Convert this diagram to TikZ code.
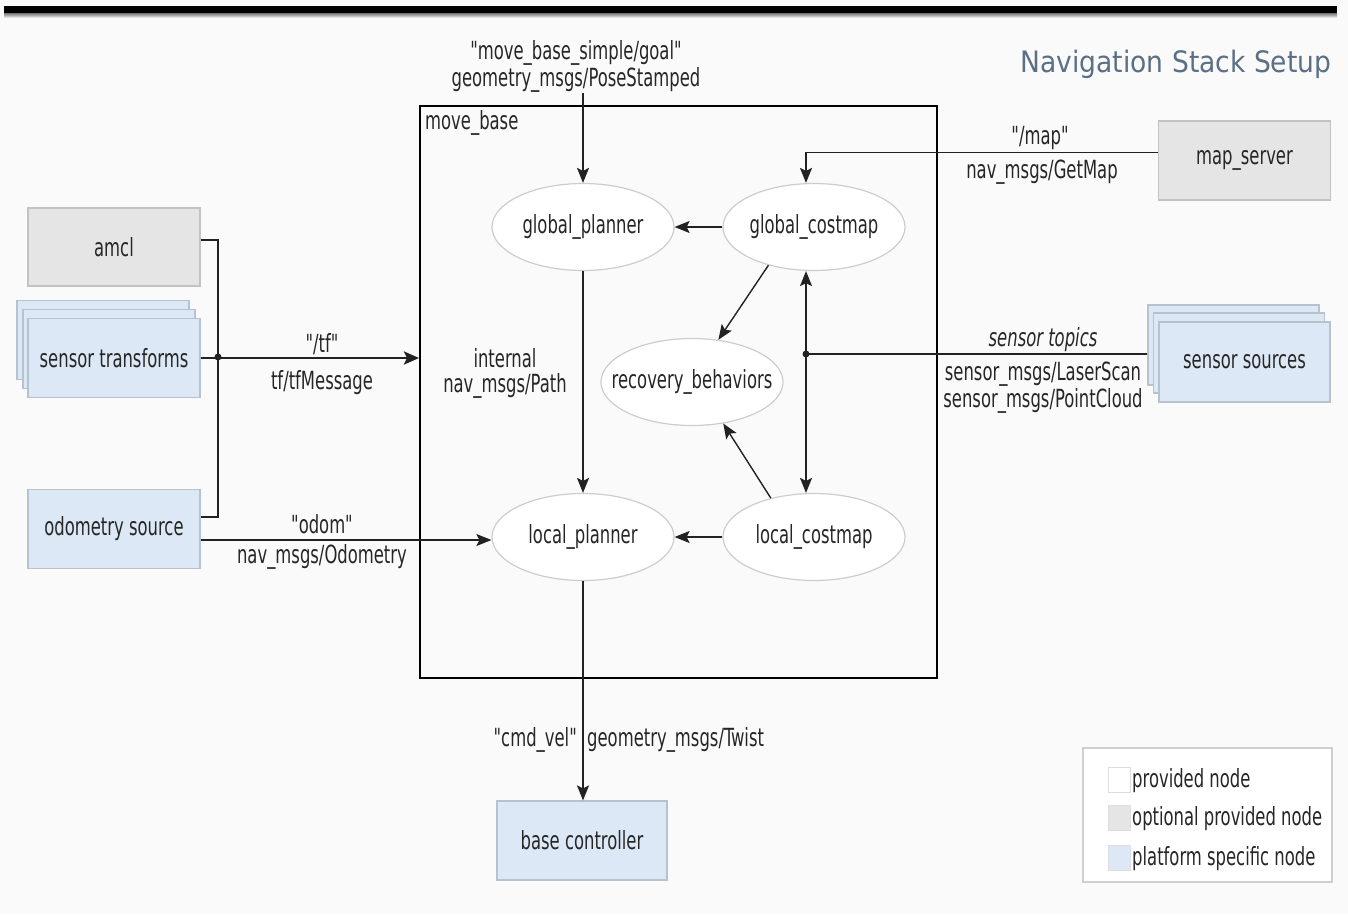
\documentclass[tikz,border=0pt]{standalone}
\usepackage{fontspec}
\newfontfamily\diagfont{DejaVu Sans Condensed}[FakeStretch=0.73]
\newfontfamily\titlefont{DejaVu Sans Condensed}
\usetikzlibrary{arrows.meta,shapes.geometric}
\definecolor{bg}{HTML}{FAFAFA}
\definecolor{ink}{HTML}{262626}
\definecolor{linkcol}{HTML}{222222}
\definecolor{optfill}{HTML}{E5E5E5}
\definecolor{optline}{HTML}{C2C2C2}
\definecolor{platfill}{HTML}{DCE8F6}
\definecolor{platline}{HTML}{B6C2CE}
\definecolor{ellline}{HTML}{CDCDCD}
\definecolor{legline}{HTML}{CFCFCF}
\definecolor{titlecol}{HTML}{5B6F85}
\newcommand\zw[1]{\makebox[0pt]{#1}}
\begin{document}
\begin{tikzpicture}[x=1pt,y=-1pt,
  every node/.style={font=\diagfont\fontsize{25}{27}\selectfont, text=ink, align=center},
  optbox/.style={rectangle, draw=optline, fill=optfill, line width=1.2pt,
    minimum width=172pt, minimum height=78pt, inner sep=2pt},
  platbox/.style={rectangle, draw=platline, fill=platfill, line width=1.2pt,
    minimum width=172pt, minimum height=79pt, inner sep=2pt},
  proc/.style={ellipse, draw=ellline, fill=white, line width=1.2pt,
    minimum width=182pt, minimum height=87pt, inner sep=0pt},
  link/.style={draw=linkcol, line width=1.4pt},
  arr/.style={link, -{Stealth[length=15pt,width=12pt,inset=3pt]}},
  biarr/.style={link, {Stealth[length=15pt,width=12pt,inset=3pt]}-{Stealth[length=15pt,width=12pt,inset=3pt]}},
  keysq/.style={rectangle, draw=legline!70, line width=0.8pt, minimum width=22pt, minimum height=25pt, inner sep=0pt},
  lbl/.style={inner sep=1pt}
]
% canvas and header bar
\fill[bg] (0,0) rectangle (1348,914);
\useasboundingbox (0,0) rectangle (1348,914);
\fill[black] (4,6) rectangle (1337,13);
\shade[top color=black!55, bottom color=bg] (4,13) rectangle (1337,18);

\node[font=\titlefont\fontsize{29.5}{32}\selectfont, text=titlecol] (title) at (1176,64) {Navigation Stack Setup};

% move_base container
\node[draw=black, line width=2pt, minimum width=517pt, minimum height=572pt, inner sep=0pt] (mb) at (678.5,392) {};
\node[anchor=north west, inner sep=0pt] (mblabel) at (425,110) {move\_base};

% internal processes
\node[proc] (gp) at (583,227) {\zw{global\_planner}};
\node[proc] (gc) at (814,227) {\zw{global\_costmap}};
\node[proc] (rb) at (692,382) {\zw{recovery\_behaviors}};
\node[proc] (lp) at (583,537) {\zw{local\_planner}};
\node[proc] (lc) at (814,537) {\zw{local\_costmap}};

% external nodes, left side
\node[optbox] (amcl) at (114,247) {amcl};
\node[platbox] (stC) at (103,340) {};
\node[platbox] (stB) at (109,349) {};
\node[platbox] (st) at (114,358) {sensor transforms};
\node[platbox] (odo) at (114,529) {odometry source};

% external nodes, right side
\node[optbox, minimum height=79pt] (ms) at (1244.5,160.5) {map\_server};
\node[platbox, minimum width=171pt, minimum height=80pt] (ssC) at (1233.5,345) {};
\node[platbox, minimum width=171pt, minimum height=80pt] (ssB) at (1239,353) {};
\node[platbox, minimum width=171pt, minimum height=80pt] (ss) at (1244.5,362) {sensor sources};

% base controller
\node[platbox, minimum width=170pt] (bc) at (582,840.5) {base controller};

% goal input
\node[lbl] (goal) at (576,66) {"move\_base\_simple/goal"\\geometry\_msgs/PoseStamped};
\draw[arr] (gp.north |- goal.south) -- (gp.north);

% tf bus
\coordinate (bus) at (218,357);
\coordinate (amclout) at ([yshift=7pt]amcl.east);
\coordinate (odoout) at ([yshift=12pt]odo.east);
\coordinate (odoodom) at ([yshift=-11pt]odo.east);
\draw[link] (amclout) -| (bus) |- (odoout);
\draw[link, line width=2.6pt, -{Stealth[length=15pt,width=13pt,inset=3pt]}] (st.east) -- (st.east -| mb.west);
\fill[linkcol] (bus) circle (3.5pt);
\node[lbl] (tfname) at (322,344) {"/tf"};
\node[lbl] (tftype) at (322,383) {tf/tfMessage};

% odometry
\draw[arr] (odoodom) -- (odoodom -| lp.west);
\node[lbl] (odomname) at (322,524) {"odom"};
\node[lbl] (odomtype) at (322,557) {nav\_msgs/Odometry};

% planners and costmaps
\draw[arr] (gc) -- (gp);
\draw[arr] (lc) -- (lp);
\draw[arr] (gp) -- (lp);
\node[lbl] (pathname) at (505,358) {internal};
\node[lbl] (pathtype) at (505,386) {nav\_msgs/Path};
\draw[arr] (gc.220) -- (rb.58);
\draw[arr] (lc.138) -- (rb.307);

% sensor topics into the costmaps
\coordinate (tap) at (806,354);
\draw[biarr] (tap |- gc.south) -- (tap |- lc.north);
\draw[link] (tap) -- (tap -| ssC.west);
\fill[linkcol] (tap) circle (3.5pt);
\node[lbl, font=\diagfont\itshape\fontsize{25}{27}\selectfont] (senstopics) at (1043,340) {sensor topics};
\node[lbl] (senstypes) at (1043,388) {sensor\_msgs/LaserScan\\sensor\_msgs/PointCloud};

% map
\coordinate (mapout) at ([yshift=8pt]ms.west);
\draw[arr] (mapout) -| (tap |- gc.north);
\node[lbl] (mapname) at (1040,138) {"/map"};
\node[lbl] (maptype) at (1042,172) {nav\_msgs/GetMap};

% velocity command
\draw[arr] (lp) -- (lp |- bc.north);
\node[lbl, anchor=east] (cmdname) at (578,740) {"cmd\_vel"};
\node[lbl, anchor=west] (cmdtype) at (586,740) {geometry\_msgs/Twist};

% legend
\node[rectangle, draw=legline, fill=white, line width=1.2pt, minimum width=249pt, minimum height=134pt, inner sep=0pt] (legend) at (1207.5,815) {};
\node[keysq, fill=white] (k1) at (1119,780) {};
\node[keysq, fill=optfill] (k2) at (1119,818) {};
\node[keysq, fill=platfill] (k3) at (1119,858) {};
\node[lbl, anchor=west] (t1) at (1131,781) {provided node};
\node[lbl, anchor=west] (t2) at (1131,819) {optional provided node};
\node[lbl, anchor=west] (t3) at (1131,859) {platform specific node};
\end{tikzpicture}
\end{document}
